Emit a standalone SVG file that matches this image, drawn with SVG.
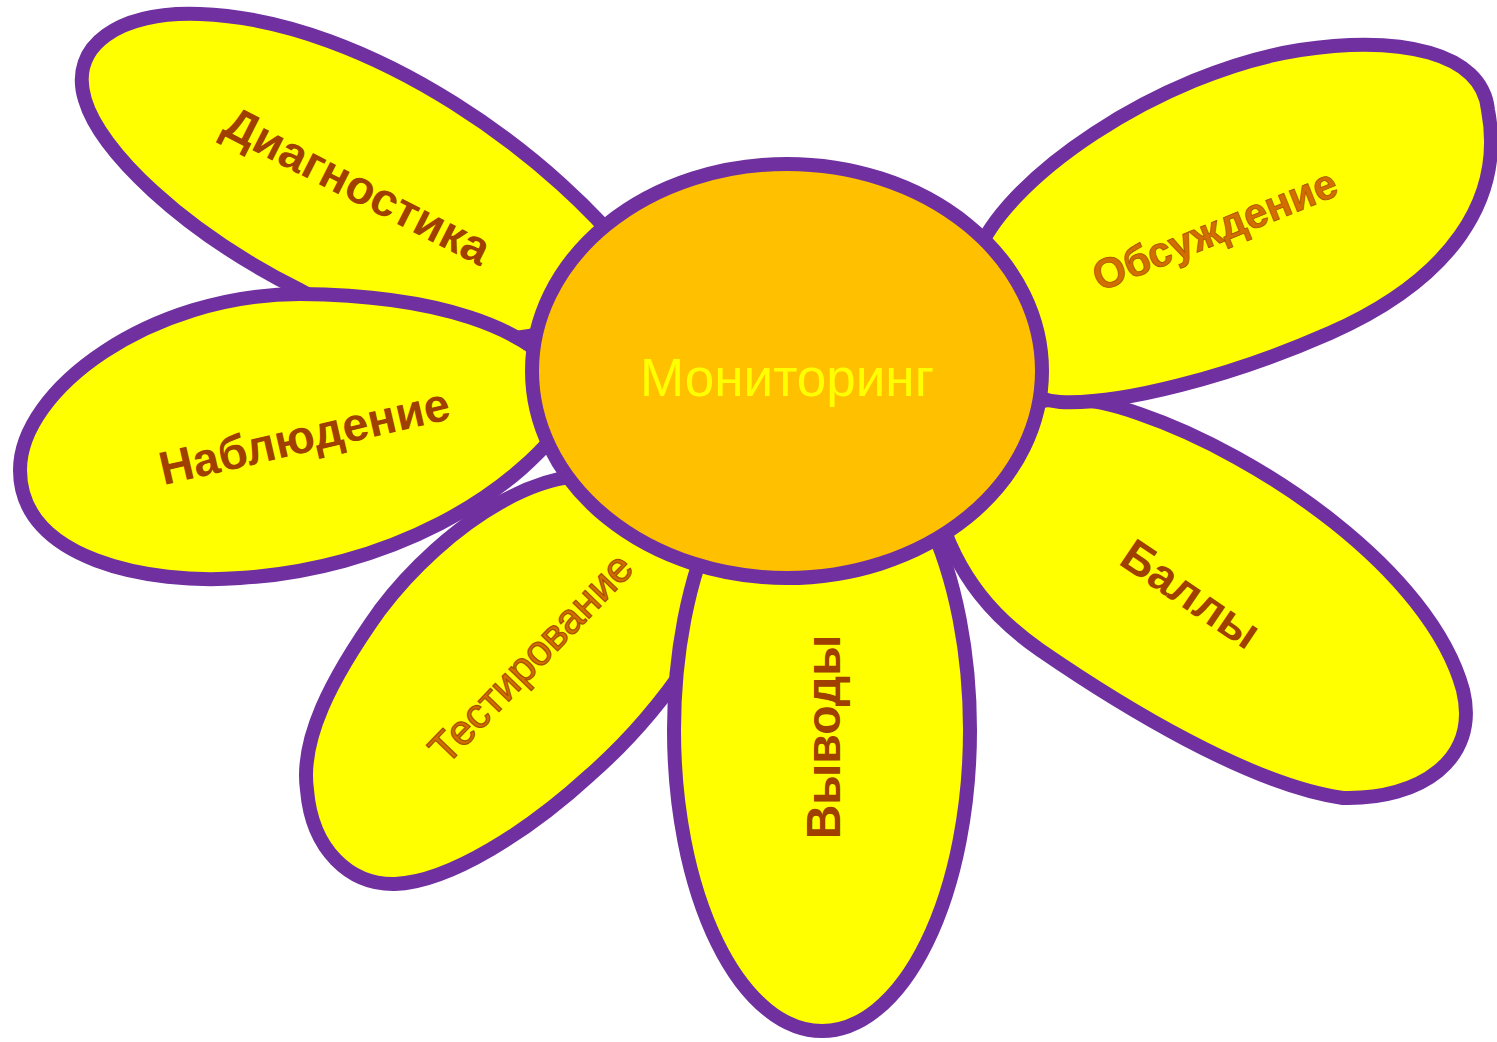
<svg xmlns="http://www.w3.org/2000/svg" width="1497" height="1042" viewBox="0 0 1497 1042">
<style>
.petal{fill:#FFFF00;stroke:#7030A0;stroke-width:14;stroke-linejoin:round}
.core{fill:#FFC000;stroke:#7030A0;stroke-width:14}
.lbl{font-family:"Liberation Sans",Arial,sans-serif;font-weight:bold;fill:#A04000;text-anchor:middle}
.lbl2{font-family:"Liberation Sans",Arial,sans-serif;font-weight:bold;fill:#D26E00;stroke:#A85200;stroke-width:0.8;text-anchor:middle}
.lbl3{font-family:"Liberation Sans",Arial,sans-serif;fill:#D26E00;stroke:#A85200;stroke-width:1.3;text-anchor:middle}
.ctr{font-family:"Liberation Sans",Arial,sans-serif;fill:#FFFF00;text-anchor:middle}
</style>
<rect width="1497" height="1042" fill="#FFFFFF"/>
<g id="connectors"/>
<g id="petal-diagnostika">
<path class="petal" d="M 640 270 C 560 160, 370 20, 200 14 C 120 11, 68 45, 85 100 C 100 150, 180 230, 300 290 C 420 360, 580 360, 640 270 Z"/>
<text class="lbl" font-size="47" transform="translate(350 200) rotate(27)">Диагностика</text>
</g>
<g id="petal-bally">
<path class="petal" d="M 935 500 C 990 390, 1060 385, 1140 414 C 1260 455, 1430 570, 1463 690 C 1480 760, 1420 800, 1343 798 C 1250 785, 1120 705, 1040 650 C 1000 622, 955 580, 935 500 Z"/>
<text class="lbl" font-size="46" transform="translate(1182 607) rotate(34)">Баллы</text>
</g>
<g id="petal-nablyudenie">
<path class="petal" d="M 580 400 C 540 320, 420 295, 300 294 C 150 294, 20 390, 20 470 C 20 560, 150 585, 240 578 C 380 570, 520 500, 580 400 Z"/>
<text class="lbl" font-size="47" transform="translate(308 452) rotate(-13)">Наблюдение</text>
</g>
<g id="petal-testirovanie">
<path class="petal" d="M 640 490 C 560 440, 440 530, 380 610 C 330 680, 300 740, 307 790 C 312 850, 350 885, 395 884 C 450 882, 530 830, 590 775 C 630 740, 660 705, 690 660 C 720 600, 700 520, 640 490 Z"/>
<text class="lbl3" font-size="42" transform="translate(541 668) rotate(-46)">Тестирование</text>
</g>
<g id="petal-vyvody">
<ellipse class="petal" cx="822" cy="730" rx="148" ry="301"/>
<text class="lbl" font-size="48" transform="translate(840 737) rotate(-90)">Выводы</text>
</g>
<g id="petal-obsuzhdenie">
<path class="petal" d="M 975 260 C 1000 180, 1160 72, 1300 50 C 1400 35, 1482 52, 1488 110 C 1505 200, 1450 280, 1330 333 C 1230 377, 1120 405, 1060 402 C 1000 398, 960 320, 975 260 Z"/>
<text class="lbl2" font-size="42" transform="translate(1220 243) rotate(-22)">Обсуждение</text>
</g>
<g id="center">
<ellipse class="core" cx="787" cy="371" rx="255" ry="207"/>
<text class="ctr" font-size="53" x="787" y="396">Мониторинг</text>
</g>
</svg>
